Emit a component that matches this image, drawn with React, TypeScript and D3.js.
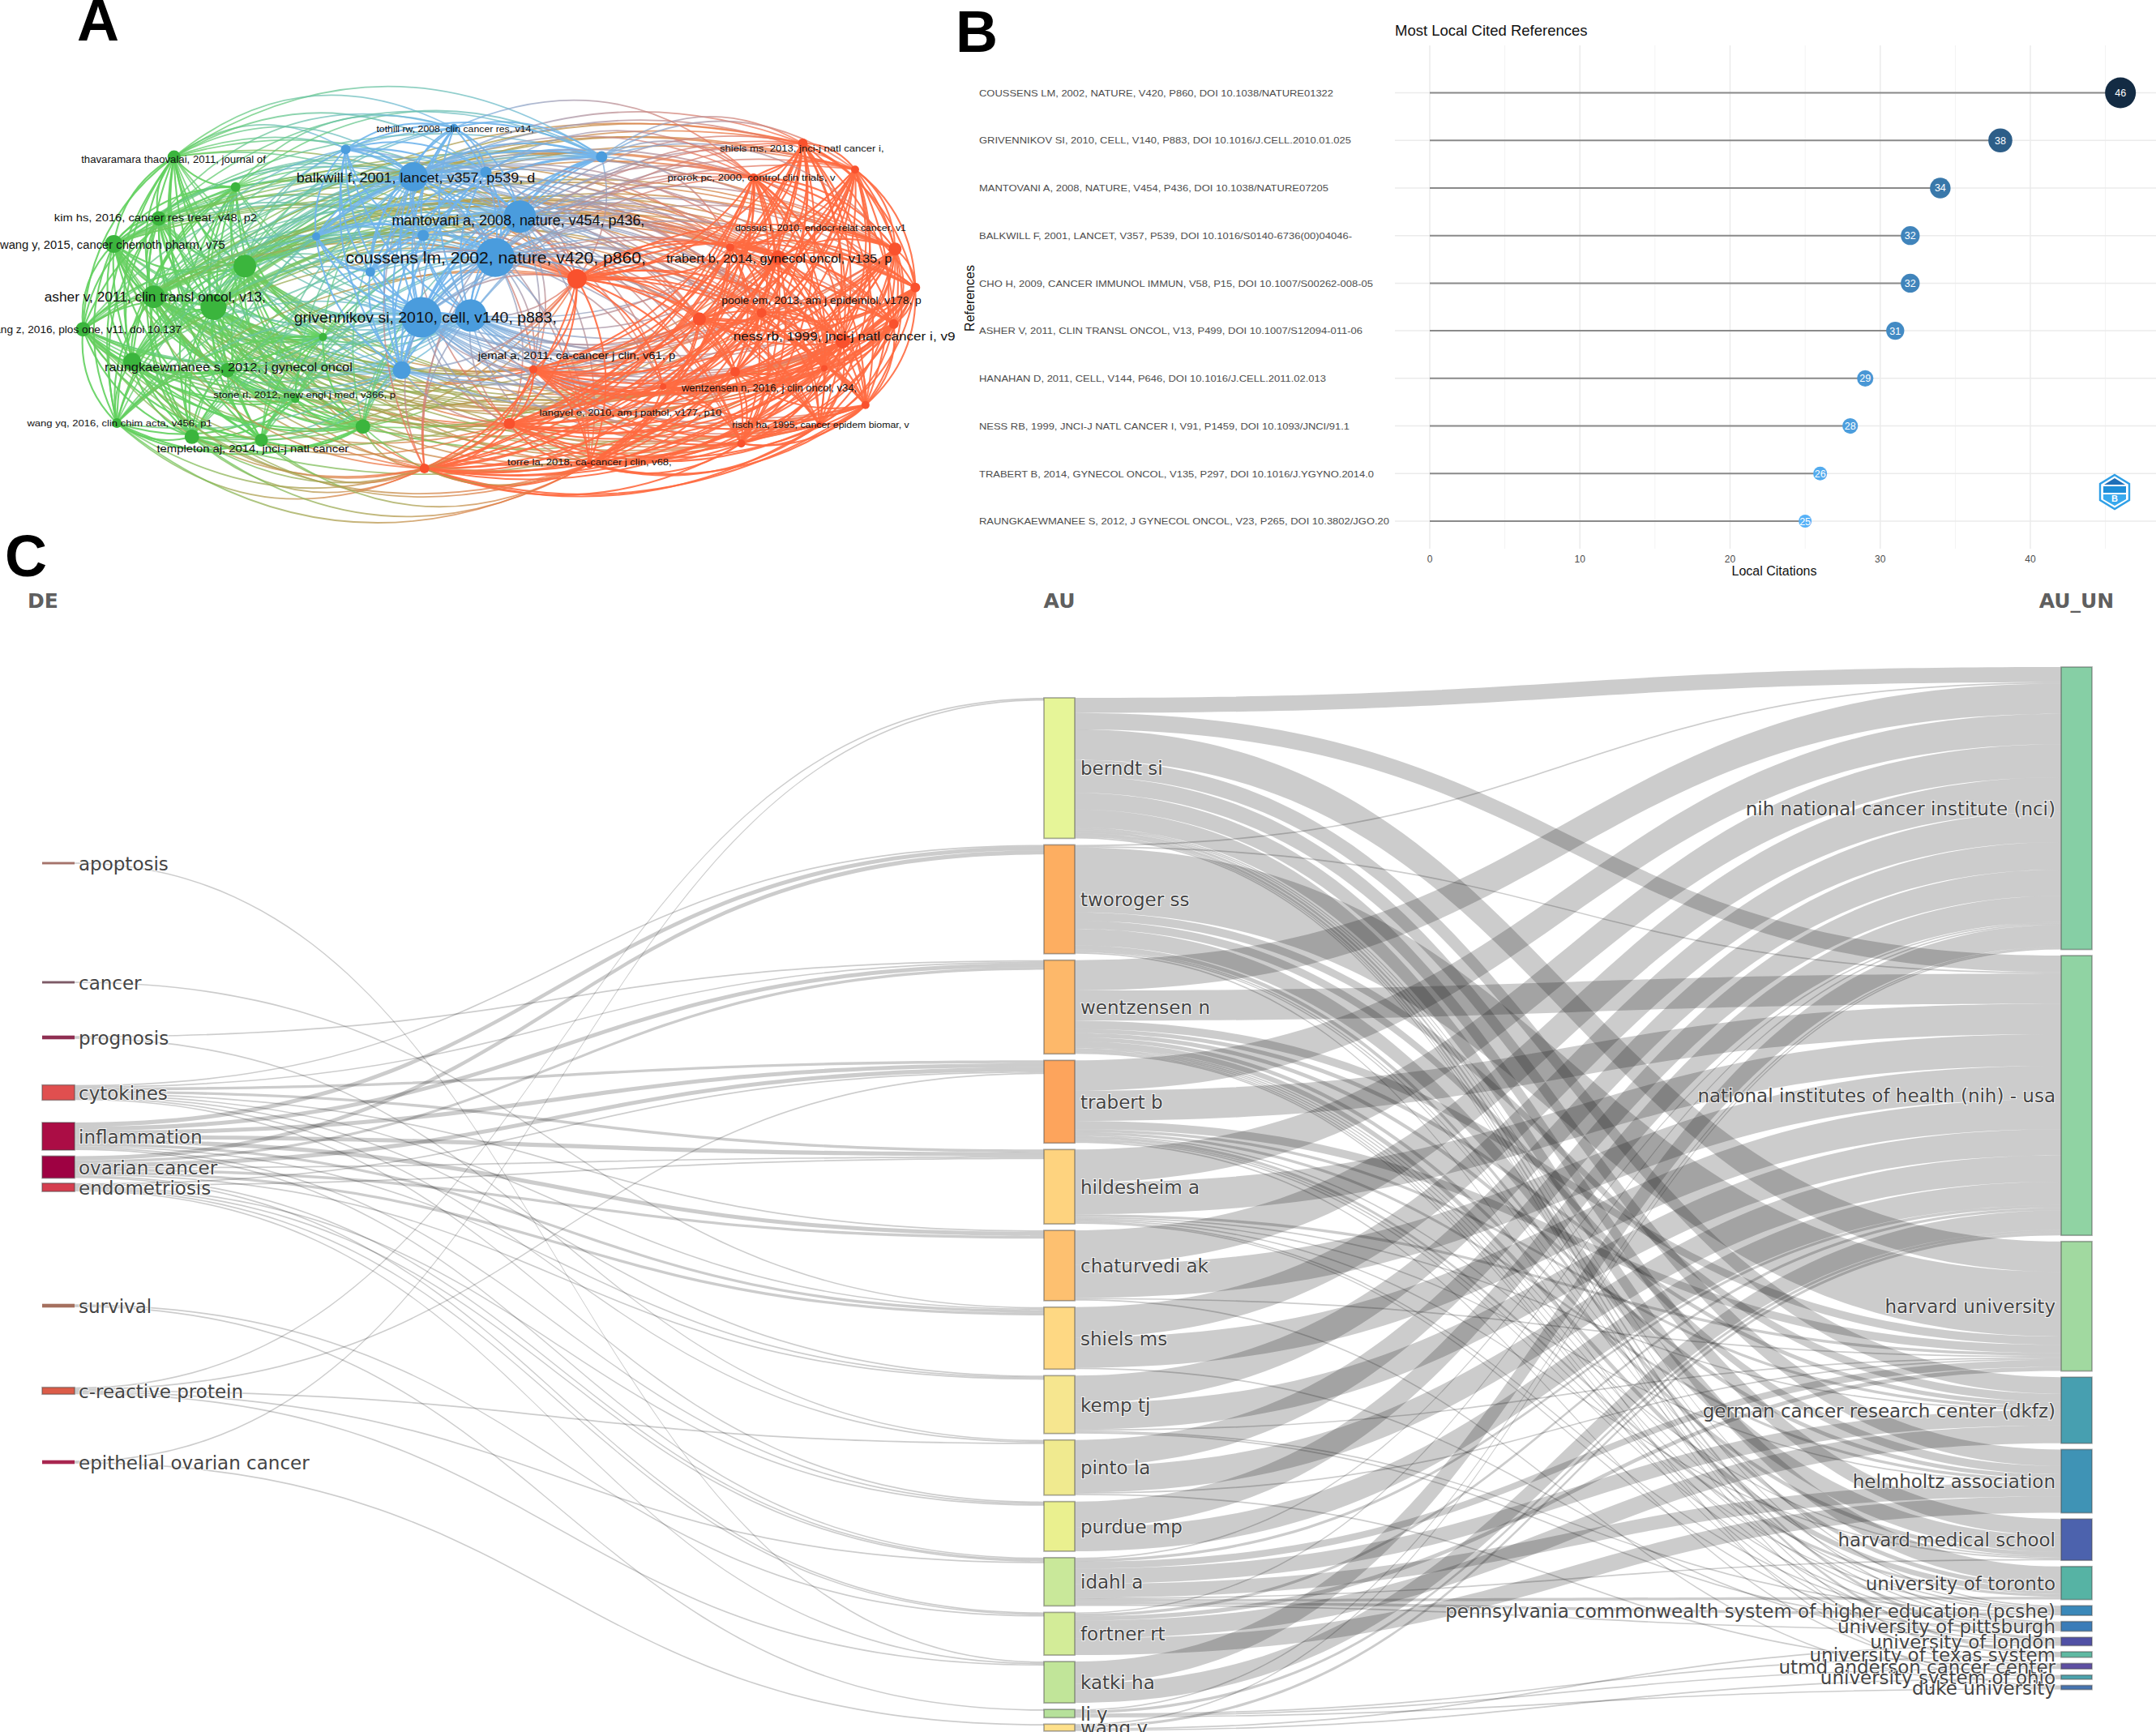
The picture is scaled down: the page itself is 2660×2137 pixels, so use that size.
import React from "react";
import * as d3 from "d3";

/* ---------- Panel A data: co-citation network (positions in network units) ---------- */
const CLUSTER_COLORS = ["#3bb53d", "#4a9cdd", "#f9512d"];
const EDGE_COLORS = ["#62d05e", "#70b4ec", "#ff6a40"];
type NetNode = [number, number, number, number]; // x, y, radius, cluster
const GREEN_NODES: NetNode[] = [
  [283, 460, 8, 0], [383, 548, 6, 0], [258, 640, 9, 0], [185, 715, 11, 0], [398, 780, 14, 0],
  [250, 870, 14, 0], [347, 900, 16, 0], [135, 965, 9, 0], [215, 1060, 11, 0], [370, 1085, 9, 0],
  [525, 988, 5, 0], [190, 1240, 6, 0], [312, 1280, 9, 0], [425, 1290, 8, 0], [590, 1250, 9, 0], [480, 1170, 5, 0],
];
const BLUE_NODES: NetNode[] = [
  [562, 438, 6, 1], [738, 375, 5, 1], [978, 460, 7, 1], [672, 518, 18, 1], [790, 505, 7, 1],
  [845, 635, 20, 1], [688, 690, 7, 1], [514, 693, 5, 1], [805, 755, 24, 1], [602, 797, 6, 1],
  [685, 930, 25, 1], [765, 925, 20, 1], [653, 1085, 11, 1],
];
const RED_NODES: NetNode[] = [
  [1305, 420, 6, 2], [1390, 497, 5, 2], [1225, 520, 5, 2], [1187, 725, 5, 2], [1265, 755, 9, 2],
  [1455, 730, 8, 2], [938, 817, 12, 2], [1488, 843, 6, 2], [1137, 935, 8, 2], [1238, 917, 6, 2],
  [1453, 950, 6, 2], [1370, 1000, 9, 2], [867, 1083, 5, 2], [1195, 1090, 6, 2], [1340, 1080, 4, 2],
  [1078, 1133, 4, 2], [1407, 1187, 5, 2], [828, 1242, 7, 2], [1332, 1245, 4, 2], [1205, 1300, 5, 2],
  [690, 1373, 6, 2], [958, 1360, 5, 2],
];
// the long outer arcs, as pairs of node positions in the list green + blue + red
const OUTER_ARCS: [number, number][] = [
  [0, 18], [0, 17], [0, 16], [0, 20], [0, 19], [1, 18], [1, 17], [2, 17], [2, 18],
  [18, 29], [18, 30], [18, 31], [18, 32], [18, 34], [17, 31], [20, 31],
  [11, 49], [11, 50], [7, 49], [7, 50], [12, 49], [12, 50], [13, 49], [13, 50], [3, 49], [8, 49], [14, 50], [14, 49], [11, 46], [12, 46],
  [8, 50], [3, 50], [7, 46],
];
const NET_LABELS = [
  "coussens lm, 2002, nature, v420, p860,", "balkwill f, 2001, lancet, v357, p539, d", "mantovani a, 2008, nature, v454, p436,",
  "grivennikov si, 2010, cell, v140, p883,", "asher v, 2011, clin transl oncol, v13,", "trabert b, 2014, gynecol oncol, v135, p",
  "ness rb, 1999, jnci-j natl cancer i, v9", "raungkaewmanee s, 2012, j gynecol oncol", "tothill rw, 2008, clin cancer res, v14,",
  "shiels ms, 2013, jnci-j natl cancer i,", "thavaramara thaovalai, 2011, journal of", "prorok pc, 2000, control clin trials, v",
  "kim hs, 2016, cancer res treat, v48, p2", "wang y, 2015, cancer chemoth pharm, v75", "dossus l, 2010, endocr-relat cancer, v1",
  "poole em, 2013, am j epidemiol, v178, p", "wang z, 2016, plos one, v11, doi 10.137", "jemal a, 2011, ca-cancer j clin, v61, p",
  "wentzensen n, 2016, j clin oncol, v34,", "stone rl, 2012, new engl j med, v366, p", "langyel e, 2010, am j pathol, v177, p10",
  "wang yq, 2016, clin chim acta, v456, p1", "risch ha, 1995, cancer epidem biomar, v", "templeton aj, 2014, jnci-j natl cancer", "torre la, 2018, ca-cancer j clin, v68,",
];
// layout of the labels: x start, x end, y centre (network units), font size (px)
const NET_LABEL_BOX = [
  [562, 1050, 755, 20], [482, 870, 520, 16.5], [637, 1048, 645, 17.5], [478, 905, 932, 17.5], [72, 432, 870, 16], [1083, 1450, 757, 15],
  [1192, 1553, 985, 15.5], [170, 573, 1076, 15], [612, 868, 379, 10.5], [1170, 1437, 434, 11], [132, 432, 467, 12], [1085, 1358, 520, 11],
  [88, 418, 638, 13], [0, 366, 718, 14], [1195, 1473, 668, 11], [1173, 1498, 880, 12.5], [-22, 295, 965, 12.5], [777, 1098, 1043, 12.5],
  [1108, 1393, 1138, 12], [347, 643, 1158, 11.5], [877, 1173, 1210, 11.5], [44, 345, 1240, 11.5], [1190, 1478, 1245, 11], [255, 567, 1314, 13.5], [825, 1092, 1355, 10.5],
];

/* ---------- Panel B data: most local cited references ---------- */
const REFERENCES = [
  "COUSSENS LM, 2002, NATURE, V420, P860, DOI 10.1038/NATURE01322",
  "GRIVENNIKOV SI, 2010, CELL, V140, P883, DOI 10.1016/J.CELL.2010.01.025",
  "MANTOVANI A, 2008, NATURE, V454, P436, DOI 10.1038/NATURE07205",
  "BALKWILL F, 2001, LANCET, V357, P539, DOI 10.1016/S0140-6736(00)04046-",
  "CHO H, 2009, CANCER IMMUNOL IMMUN, V58, P15, DOI 10.1007/S00262-008-05",
  "ASHER V, 2011, CLIN TRANSL ONCOL, V13, P499, DOI 10.1007/S12094-011-06",
  "HANAHAN D, 2011, CELL, V144, P646, DOI 10.1016/J.CELL.2011.02.013",
  "NESS RB, 1999, JNCI-J NATL CANCER I, V91, P1459, DOI 10.1093/JNCI/91.1",
  "TRABERT B, 2014, GYNECOL ONCOL, V135, P297, DOI 10.1016/J.YGYNO.2014.0",
  "RAUNGKAEWMANEE S, 2012, J GYNECOL ONCOL, V23, P265, DOI 10.3802/JGO.20",
];
const LOCAL_CITATIONS = [46, 38, 34, 32, 32, 31, 29, 28, 26, 25];
const X_TICKS = [0, 10, 20, 30, 40];
const X_MINOR = [5, 15, 25, 35, 45];
const REF_LABEL_WIDTHS = [437, 459, 431, 460, 486, 473, 428, 457, 487, 506];

/* ---------- Panel C data: three-field plot ---------- */
const DE_NAMES = ["apoptosis", "cancer", "prognosis", "cytokines", "inflammation", "ovarian cancer", "endometriosis", "survival", "c-reactive protein", "epithelial ovarian cancer"];
const AU_NAMES = ["berndt si", "tworoger ss", "wentzensen n", "trabert b", "hildesheim a", "chaturvedi ak", "shiels ms", "kemp tj", "pinto la", "purdue mp", "idahl a", "fortner rt", "katki ha", "li y", "wang y"];
const UN_NAMES = ["nih national cancer institute (nci)", "national institutes of health (nih) - usa", "harvard university", "german cancer research center (dkfz)", "helmholtz association", "harvard medical school", "university of toronto", "pennsylvania commonwealth system of higher education (pcshe)", "university of pittsburgh", "university of london", "university of texas system", "utmd anderson cancer center", "university system of ohio", "duke university"];
const DE_COLORS = ["#a5736b", "#7d5a66", "#8f2f52", "#e04f4f", "#ab0d45", "#9e0142", "#d53e4f", "#a5705f", "#dc5c48", "#a8264f"];
const AU_COLORS = ["#e6f598", "#fdae61", "#fdb86a", "#fda45c", "#fed37f", "#fdc070", "#fed883", "#f6e68f", "#f0ea8f", "#eaf08f", "#c9e89a", "#d3ec98", "#c1e599", "#b6e19b", "#fee08b"];
const UN_COLORS = ["#86cfa5", "#90d3a3", "#a1d9a0", "#479fb0", "#3f93b5", "#4c62ad", "#56b3a4", "#3a88b9", "#3b7cb8", "#5050a5", "#5fb9a2", "#5e4fa2", "#4ba3ad", "#4673b0"];
// rows: authors; columns: affiliations in UN_NAMES order
const AU_UN_VALUES = [
  [11, 12, 22, 12, 12, 12, 13, 1, 1, 2, 2, 1, 1, 0],
  [1, 1, 47, 6, 6, 12, 3, 1, 1, 0, 0, 0, 0, 1],
  [22, 22, 6, 3, 3, 3, 4, 1, 1, 1, 1, 1, 0, 0],
  [22, 22, 6, 2, 2, 1, 2, 1, 1, 0, 0, 0, 1, 0],
  [24, 23, 2, 1, 1, 1, 0, 0, 1, 1, 0, 0, 0, 0],
  [25, 24, 1, 0, 0, 0, 0, 0, 0, 0, 0, 0, 0, 1],
  [22, 22, 0, 0, 0, 0, 0, 0, 0, 1, 0, 0, 0, 0],
  [20, 19, 1, 0, 0, 0, 0, 1, 1, 0, 0, 0, 0, 0],
  [19, 19, 1, 0, 0, 0, 0, 0, 0, 0, 0, 1, 0, 0],
  [19, 17, 0, 0, 0, 0, 0, 0, 0, 0, 0, 0, 0, 0],
  [1, 2, 5, 11, 10, 1, 2, 2, 1, 0, 0, 0, 0, 0],
  [1, 2, 3, 13, 12, 0, 0, 0, 0, 0, 0, 0, 0, 0],
  [16, 14, 0, 0, 0, 0, 0, 0, 0, 0, 0, 0, 0, 0],
  [1, 2, 0, 0, 0, 0, 0, 0, 0, 0, 1, 1, 0, 1],
  [1, 2, 0, 0, 0, 0, 0, 0, 0, 1, 0, 0, 1, 0],
];
// rows: keywords; columns: authors in AU_NAMES order
const DE_AU_VALUES = [
  [0, 0, 0, 0, 0, 0, 0, 0, 0, 0, 0, 0, 1, 0, 0],
  [0, 0, 0, 0, 0, 0, 1, 0, 0, 0, 0, 0, 0, 0, 0],
  [0, 0, 1, 0, 0, 0, 0, 0, 1, 0, 0, 0, 0, 0, 0],
  [0, 1, 1, 2, 2, 1, 1, 1, 1, 1, 0, 0, 0, 0, 0],
  [0, 3, 3, 3, 3, 3, 2, 1, 0, 1, 1, 0, 0, 0, 0],
  [0, 3, 2, 3, 1, 2, 2, 1, 0, 0, 1, 1, 0, 0, 0],
  [0, 0, 0, 1, 1, 0, 0, 0, 0, 1, 1, 1, 1, 0, 0],
  [0, 0, 0, 0, 0, 0, 0, 0, 0, 0, 0, 1, 0, 1, 0],
  [1, 0, 0, 1, 0, 0, 0, 0, 1, 0, 1, 0, 1, 0, 0],
  [1, 0, 0, 0, 0, 0, 0, 0, 0, 0, 0, 0, 0, 0, 1],
];
const COLUMN_HEADERS = ["DE", "AU", "AU_UN"];

/* ---------- layout constants ---------- */
const SANS = "'Liberation Sans', Arial, sans-serif";
const VERD = "'DejaVu Sans', Verdana, sans-serif";
const UNIT = 1.7;
const AU_PAD = 8;
const UN_PAD = 7.6;
const DE_CENTERS = [1065, 1212, 1280, 1348, 1402, 1440, 1465, 1611, 1716, 1804];
const COL = { de: [52, 92], au: [1288, 1326], un: [2543, 2581] };

const sum = (a: number[]) => d3.sum(a);
const transpose = (m: number[][]) => m[0].map((_, j) => m.map((r) => r[j]));

function bandPath(x0: number, y0: number, x1: number, y1: number, h: number) {
  const xm = (x0 + x1) / 2;
  const p = d3.path();
  p.moveTo(x0, y0);
  p.bezierCurveTo(xm, y0, xm, y1, x1, y1);
  p.lineTo(x1, y1 + h);
  p.bezierCurveTo(xm, y1 + h, xm, y0 + h, x0, y0 + h);
  p.closePath();
  return p.toString();
}

function NetworkPanel() {
  const nodes = [...GREEN_NODES, ...BLUE_NODES, ...RED_NODES];
  const sx = d3.scaleLinear().domain([0, 1568]).range([0, 1190]);
  const sy = d3.scaleLinear().domain([0, 1568]).range([0, 660]);
  const cx = sx(800), cy = sy(900);
  const pairs: { d: string; a: number; b: number; x1: number; y1: number; x2: number; y2: number }[] = [];
  const addEdge = (i: number, j: number, curve: number) => {
    const n = nodes[i], m = nodes[j];
    const x1 = sx(n[0]), y1 = sy(n[1]), x2 = sx(m[0]), y2 = sy(m[1]);
    const mx = (x1 + x2) / 2, my = (y1 + y2) / 2;
    const dx = x2 - x1, dy = y2 - y1;
    let px = -dy, py = dx;
    if (px * (mx - cx) + py * (my - cy) < 0) { px = -px; py = -py; }
    const p = d3.path();
    p.moveTo(x1, y1);
    p.quadraticCurveTo(mx + px * curve, my + py * curve, x2, y2);
    pairs.push({ d: p.toString(), a: n[3], b: m[3], x1, y1, x2, y2 });
  };
  // only the stronger links are drawn: a link's strength follows the size of its two nodes
  nodes.forEach((n, i) => {
    for (let j = i + 1; j < nodes.length; j++) {
      const m = nodes[j];
      const w = n[2] + m[2];
      const same = n[3] === m[3];
      const keep = same ? (n[3] === 1 ? w >= 11 : w >= 9) : w >= 18;
      if (keep) addEdge(i, j, 0.24);
    }
  });
  OUTER_ARCS.forEach(([i, j]) => addEdge(i, j, 0.33));
  return (
    <g>
      <defs>
        {pairs.map((e, i) => e.a !== e.b ? (
          <linearGradient key={i} id={`eg${i}`} gradientUnits="userSpaceOnUse" x1={e.x1} y1={e.y1} x2={e.x2} y2={e.y2}>
            <stop offset="0" stopColor={EDGE_COLORS[e.a]} />
            <stop offset="1" stopColor={EDGE_COLORS[e.b]} />
          </linearGradient>
        ) : null)}
      </defs>
      <g fill="none">
        {pairs.map((e, i) => (
          <path key={i} d={e.d} strokeWidth={e.a === e.b ? 2.1 : 1.8} strokeOpacity={e.a === e.b ? 0.9 : 0.75}
            stroke={e.a === e.b ? EDGE_COLORS[e.a] : `url(#eg${i})`} />
        ))}
      </g>
      {nodes.map((n, i) => <circle key={i} cx={sx(n[0])} cy={sy(n[1])} r={n[2]} fill={CLUSTER_COLORS[n[3]]} />)}
      {NET_LABELS.map((t, i) => {
        const b = NET_LABEL_BOX[i];
        return <text key={t} x={sx(b[0])} y={sy(b[2])} dy="0.35em" fontSize={b[3]} fontFamily={SANS} fill="#111"
          textLength={sx(b[1]) - sx(b[0])} lengthAdjust="spacingAndGlyphs">{t}</text>;
      })}
    </g>
  );
}

function LollipopPanel() {
  const x = d3.scaleLinear().domain([0, 40]).range([1764, 2505]);
  const y = d3.scalePoint<string>().domain(REFERENCES).range([114.5, 643]);
  const r = d3.scaleLinear().domain([25, 46]).range([8, 19]);
  const color = d3.scaleLinear<string>().domain([25, 46]).range(["#56B1F7", "#132B43"]);
  const top = 56, bottom = 677, left = 1721, right = 2660;
  return (
    <g fontFamily={SANS}>
      <text x={left} y={44} fontSize={18.5} fill="#111">Most Local Cited References</text>
      {X_MINOR.map((t) => <line key={t} x1={x(t)} x2={x(t)} y1={top} y2={bottom} stroke="#f3f3f3" strokeWidth={1} />)}
      {X_TICKS.map((t) => <line key={t} x1={x(t)} x2={x(t)} y1={top} y2={bottom} stroke="#ebebeb" strokeWidth={1.5} />)}
      {REFERENCES.map((t) => <line key={t} x1={left} x2={right} y1={y(t)} y2={y(t)} stroke="#ebebeb" strokeWidth={1.5} />)}
      {REFERENCES.map((t, i) => (
        <g key={t}>
          <line x1={x(0)} x2={x(LOCAL_CITATIONS[i])} y1={y(t)} y2={y(t)} stroke="#8a8a8a" strokeWidth={2} />
          <circle cx={x(LOCAL_CITATIONS[i])} cy={y(t)} r={r(LOCAL_CITATIONS[i])} fill={color(LOCAL_CITATIONS[i])} />
          <text x={x(LOCAL_CITATIONS[i])} y={y(t)} dy="0.36em" textAnchor="middle" fontSize={12.5} fill="#fff">{LOCAL_CITATIONS[i]}</text>
          <text x={1208} y={y(t)} dy="0.36em" fontSize={11.8} fill="#4d4d4d" textLength={REF_LABEL_WIDTHS[i]} lengthAdjust="spacingAndGlyphs">{t}</text>
        </g>
      ))}
      {X_TICKS.map((t) => <text key={t} x={x(t)} y={694} textAnchor="middle" fontSize={12} fill="#4d4d4d">{t}</text>)}
      <text x={2189} y={710} textAnchor="middle" fontSize={16} fill="#111">Local Citations</text>
      <text transform="translate(1202,368) rotate(-90)" textAnchor="middle" fontSize={16} fill="#111">References</text>
      <g transform="translate(2609,607)">
        <polygon points="0,-21 18,-10 18,10 0,21 -18,10 -18,-10" fill="#fff" stroke="#2f9fe6" strokeWidth={2.4} />
        <polygon points="0,-17 13,-9 -13,-9" fill="#1f6fb8" />
        <rect x={-14} y={-7} width={28} height={8} fill="#1f8ed8" />
        <polygon points="-14,3 14,3 14,9 0,17 -14,9" fill="#38a9ee" />
        <text x={0} y={12} textAnchor="middle" fontSize={11} fontWeight="bold" fill="#fff">B</text>
      </g>
    </g>
  );
}

function SankeyPanel() {
  const UN_AU = transpose(AU_UN_VALUES);
  const AU_DE = transpose(DE_AU_VALUES);
  const deH = DE_AU_VALUES.map((r) => sum(r) * UNIT);
  const auH = AU_NAMES.map((_, i) => Math.max(sum(AU_UN_VALUES[i]), sum(AU_DE[i])) * UNIT);
  const unH = UN_AU.map((c) => sum(c) * UNIT);
  const deTop = DE_CENTERS.map((c, i) => c - deH[i] / 2);
  const stack = (hs: number[], start: number, pad: number) => {
    let y = start;
    return hs.map((h) => { const t = y; y += h + pad; return t; });
  };
  const auTop = stack(auH, 861, AU_PAD);
  const unTop = stack(unH, 823, UN_PAD);

  const bands: string[] = [];
  const add = (m: number[][], tops0: number[], tops1: number[], x0: number, x1: number) => {
    const inOff = tops1.slice();
    m.forEach((row, i) => {
      let out = tops0[i];
      row.forEach((v, j) => {
        if (!v) return;
        const h = v * UNIT;
        bands.push(bandPath(x0, out, x1, inOff[j], h));
        out += h;
        inOff[j] += h;
      });
    });
  };
  add(DE_AU_VALUES, deTop, auTop, COL.de[1], COL.au[0]);
  add(AU_UN_VALUES, auTop, unTop, COL.au[1], COL.un[0]);

  const node = (key: string, x: number[], y: number, h: number, fill: string) => {
    const thin = h < 5;
    return <rect key={key} x={x[0]} y={thin ? y - 0.6 : y} width={x[1] - x[0]} height={thin ? h + 1.2 : h} fill={fill}
      stroke={thin ? "none" : "#444"} strokeOpacity={0.45} strokeWidth={1.7} />;
  };
  const label = (t: string, x: number, y: number, anchor: "start" | "end") => (
    <text key={t} x={x} y={y} dy="0.38em" textAnchor={anchor} fontSize={23} fontFamily={VERD} fill="#444"
      stroke="#fff" strokeOpacity={0.75} strokeWidth={2.2} paintOrder="stroke">{t}</text>
  );
  return (
    <g>
      {COLUMN_HEADERS.map((t, i) => (
        <text key={t} x={[53, 1307, 2562][i]} y={750} textAnchor="middle" fontSize={25} fontWeight="bold" fontFamily={VERD} fill="#5f5f5f">{t}</text>
      ))}
      <g fill="#000" fillOpacity={0.2}>{bands.map((d, i) => <path key={i} d={d} />)}</g>
      {DE_NAMES.map((t, i) => node(t, COL.de, deTop[i], deH[i], DE_COLORS[i]))}
      {AU_NAMES.map((t, i) => node(t, COL.au, auTop[i], auH[i], AU_COLORS[i]))}
      {UN_NAMES.map((t, i) => node(t, COL.un, unTop[i], unH[i], UN_COLORS[i]))}
      {DE_NAMES.map((t, i) => label(t, 97, DE_CENTERS[i], "start"))}
      {AU_NAMES.map((t, i) => label(t, 1333, auTop[i] + auH[i] / 2, "start"))}
      {UN_NAMES.map((t, i) => label(t, 2536, unTop[i] + unH[i] / 2, "end"))}
    </g>
  );
}

export default function App() {
  const letters: [string, number, number][] = [["A", 95, 50], ["B", 1179, 64], ["C", 6, 711]];
  return (
    <svg width={2660} height={2137} viewBox="0 0 2660 2137" style={{ position: "absolute", left: 0, top: 0, background: "#fff", display: "block" }}>
      <NetworkPanel />
      <LollipopPanel />
      <SankeyPanel />
      {letters.map(([t, x, y]) => <text key={t} x={x} y={y} fontSize={72} fontWeight="bold" fontFamily={SANS} fill="#000">{t}</text>)}
    </svg>
  );
}
